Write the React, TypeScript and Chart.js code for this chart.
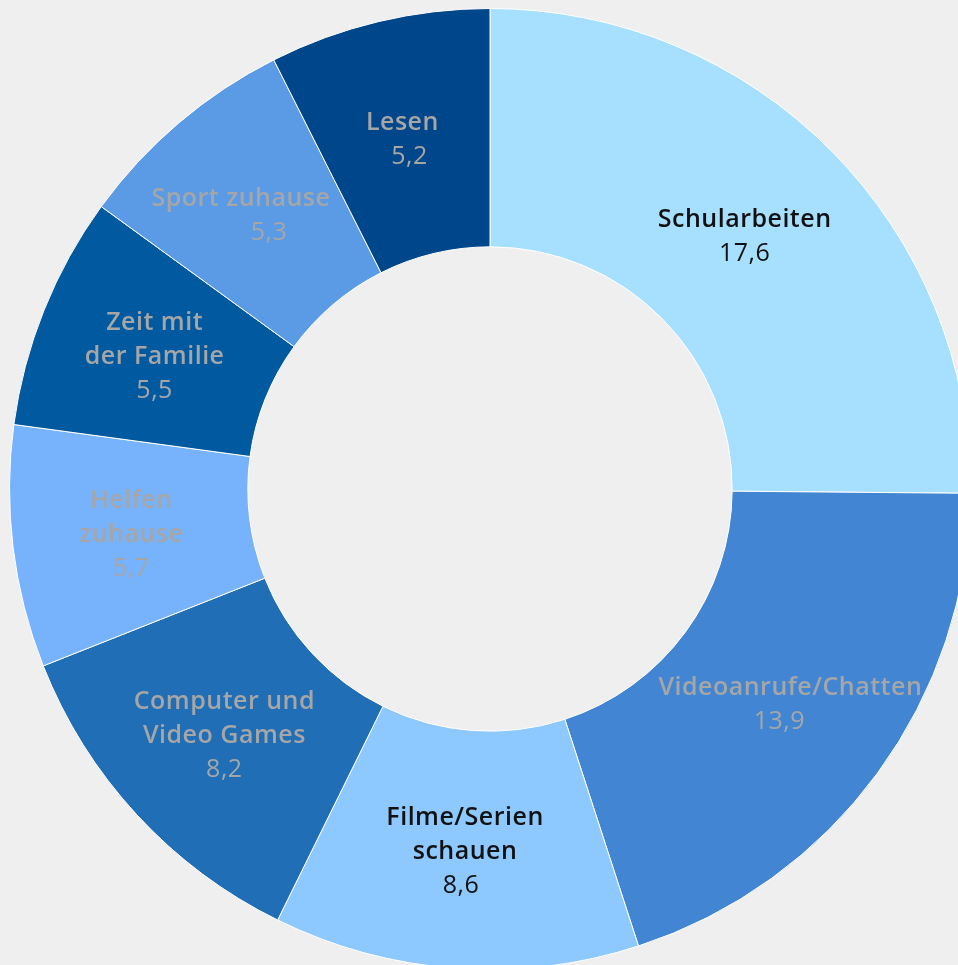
import React, { useEffect, useRef } from "react";
import { Chart, registerables } from "chart.js";

Chart.register(...registerables);

const categories: string[][] = [
  ["Schularbeiten"],
  ["Videoanrufe/Chatten"],
  ["Filme/Serien", "schauen"],
  ["Computer und", "Video Games"],
  ["Helfen", "zuhause"],
  ["Zeit mit", "der Familie"],
  ["Sport zuhause"],
  ["Lesen"],
];
const values: number[] = [17.6, 13.9, 8.6, 8.2, 5.7, 5.5, 5.3, 5.2];
const sliceColors: string[] = [
  "#a7e0ff",
  "#4286d3",
  "#8dc8fe",
  "#206eb5",
  "#77b3fd",
  "#015aa0",
  "#5b9be6",
  "#00468a",
];
const labelColors: string[] = [
  "#111111",
  "#a6a6a6",
  "#111111",
  "#a6a6a6",
  "#a6a6a6",
  "#a6a6a6",
  "#a6a6a6",
  "#a6a6a6",
];

const fmt = (v: number) => v.toFixed(1).replace(".", ",");

// small horizontal nudges of the slice labels (label placement styling)
const nameNudgeX = [-2, 9, 1, 0, 0, 0, -15, -4];
const valueNudgeX = [-2, -2, -3, 0, 0, 0, 13, 3];

const labelPlugin = {
  id: "sliceLabels",
  afterDatasetsDraw(chart: any) {
    const ctx = chart.ctx;
    const meta = chart.getDatasetMeta(0);
    const lineH = 34;
    meta.data.forEach((arc: any, i: number) => {
      const p = arc.tooltipPosition();
      const lines = categories[i];
      const total = lines.length + 1;
      const startY = p.y + 2 - ((total - 1) * lineH) / 2;
      ctx.save();
      ctx.textAlign = "center";
      ctx.textBaseline = "middle";
      ctx.fillStyle = labelColors[i];
      try {
        (ctx as any).letterSpacing = "0.5px";
      } catch (e) {}
      ctx.font = "600 25px 'Open Sans'";
      lines.forEach((ln, j) => {
        ctx.fillText(ln, p.x + nameNudgeX[i], startY + j * lineH);
      });
      ctx.font = "400 25px 'Open Sans'";
      ctx.fillText(fmt(values[i]), p.x + valueNudgeX[i], startY + lines.length * lineH);
      ctx.restore();
    });
  },
};

export default function App() {
  const ref = useRef<HTMLCanvasElement | null>(null);
  useEffect(() => {
    if (!ref.current) return;
    const chart = new Chart(ref.current, {
      type: "doughnut",
      data: {
        labels: categories.map((c) => c.join(" ")),
        datasets: [
          {
            data: values,
            backgroundColor: sliceColors,
            borderColor: "#ffffff",
            borderWidth: 1,
          },
        ],
      },
      options: {
        responsive: false,
        animation: false,
        cutout: "50.4%",
        layout: { padding: 0 },
        plugins: {
          legend: { display: false },
          tooltip: { enabled: false },
        },
      },
      plugins: [labelPlugin],
    });
    return () => chart.destroy();
  }, []);
  return (
    <div
      style={{
        position: "fixed",
        left: 0,
        top: 0,
        width: 958,
        height: 965,
        overflow: "hidden",
        background: "#efefef",
      }}
    >
      <canvas
        ref={ref}
        width={962}
        height={962}
        style={{ position: "absolute", left: 9, top: 8, width: 962, height: 962 }}
      />
    </div>
  );
}
